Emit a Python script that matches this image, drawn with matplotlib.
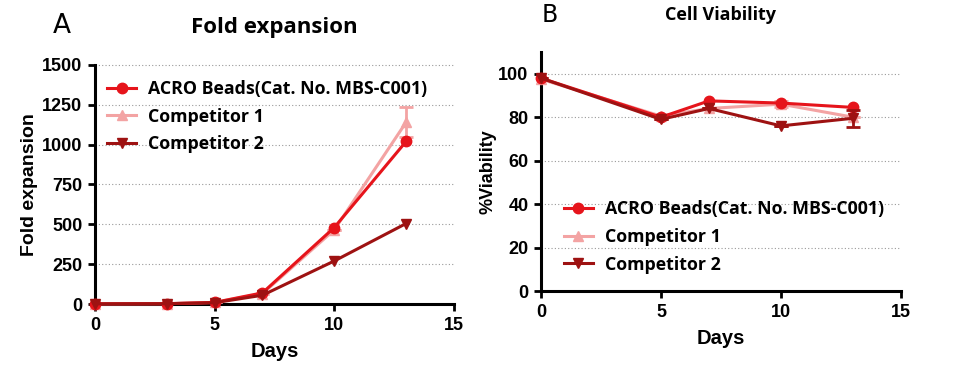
import numpy as np
import matplotlib
matplotlib.use('Agg')
import matplotlib.pyplot as plt

# --- data ---
days_fold = [0, 3, 5, 7, 10, 13]
fold_acro = [1, 2, 10, 70, 480, 1020]
fold_comp1 = [1, 2, 10, 65, 465, 1140]
fold_comp1_err = [0, 0, 0, 0, 0, 95]
fold_comp2 = [1, 2, 8, 55, 270, 505]

days_via = [0, 5, 7, 10, 13]
via_acro = [98, 80, 87.5, 86.5, 84.5]
via_comp1 = [97.5, 80.5, 84, 86, 80]
via_comp1_err = [0, 0, 0, 1.5, 0]
via_comp2 = [98, 79, 84, 76, 79.5]
via_comp2_err = [0, 0, 0, 0, 4]

labels = ['ACRO Beads(Cat. No. MBS-C001)', 'Competitor 1', 'Competitor 2']
colors = ['#E6141B', '#F3A3A3', '#9E1212']
markers = ['o', '^', 'v']

TICK_FONT = 'Liberation Sans'
CJK_FONT = 'Open Sans'

fig = plt.figure(figsize=(9.66, 3.68), dpi=100)
axA = fig.add_axes([0.0983, 0.1739, 0.3716, 0.6495])
axB = fig.add_axes([0.5600, 0.2092, 0.3727, 0.6495])


def style_axes(ax, yticks, ylim):
    ax.set_xlim(0, 15)
    ax.set_ylim(*ylim)
    ax.set_xticks([0, 5, 10, 15])
    ax.set_yticks(yticks)
    for s in ['top', 'right']:
        ax.spines[s].set_visible(False)
    for s in ['left', 'bottom']:
        ax.spines[s].set_linewidth(2.2)
    ax.spines['left'].set_bounds(ylim[0], ylim[1])
    ax.tick_params(width=2, length=5, direction='out', pad=4)
    for lab in ax.get_xticklabels() + ax.get_yticklabels():
        lab.set_fontfamily(TICK_FONT)
        lab.set_fontweight('bold')
        lab.set_fontsize(13)
    for t in yticks[1:]:
        ax.plot([0, 15], [t, t], ls=(0, (1, 2)), color='#999999', lw=0.8,
                zorder=0, clip_on=False)
    ax.set_xlabel('Days', fontfamily=TICK_FONT, fontweight='bold', fontsize=14.5, labelpad=6)


def plot_series(ax, x, ys, errs):
    handles = []
    order = [1, 0, 2]
    for i in order:
        y = ys[i]
        if errs[i] is not None:
            ax.errorbar(x, y, yerr=errs[i], fmt='none', ecolor=colors[i],
                        elinewidth=2, capsize=5, capthick=2, zorder=2 + i)
        h, = ax.plot(x, y, color=colors[i], marker=markers[i], ms=7.5, lw=2.2,
                     label=labels[i], zorder=3 + (0 if i == 1 else 1 + i),
                     clip_on=False)
        handles.append((i, h))
    handles.sort()
    return [h for _, h in handles]


legend_kw = dict(frameon=False,
                 prop={'family': CJK_FONT, 'weight': 'bold', 'size': 12.8},
                 handlelength=1.6, handletextpad=0.7, labelspacing=0.55)

# ---- Panel A ----
hA = plot_series(axA, days_fold, [fold_acro, fold_comp1, fold_comp2],
                 [None, fold_comp1_err, None])
style_axes(axA, [0, 250, 500, 750, 1000, 1250, 1500], (0, 1500))
axA.set_ylabel('Fold expansion', fontfamily=TICK_FONT, fontweight='bold', fontsize=14, labelpad=3)
axA.legend(handles=hA, loc='upper left', bbox_to_anchor=(0.0, 0.99),
           borderaxespad=0.3, **legend_kw)
fig.text(0.055, 0.93, 'A', fontsize=19, fontfamily='DejaVu Sans', va='center', ha='left')
fig.text(0.284, 0.925, 'Fold expansion', fontsize=16, fontfamily=CJK_FONT,
         fontweight='bold', va='center', ha='center')

# ---- Panel B ----
hB = plot_series(axB, days_via, [via_acro, via_comp1, via_comp2],
                 [None, via_comp1_err, via_comp2_err])
style_axes(axB, [0, 20, 40, 60, 80, 100], (0, 110))
axB.set_ylabel('%Viability', fontfamily=TICK_FONT, fontweight='bold', fontsize=13, labelpad=1)
axB.legend(handles=hB, loc='upper left', bbox_to_anchor=(0.045, 0.41),
           borderaxespad=0.0, **legend_kw)
fig.text(0.561, 0.958, 'B', fontsize=17, fontfamily='DejaVu Sans', va='center', ha='left')
fig.text(0.746, 0.958, 'Cell Viability', fontsize=13, fontfamily=CJK_FONT,
         fontweight='bold', va='center', ha='center')

fig.savefig('out.png', dpi=100)
